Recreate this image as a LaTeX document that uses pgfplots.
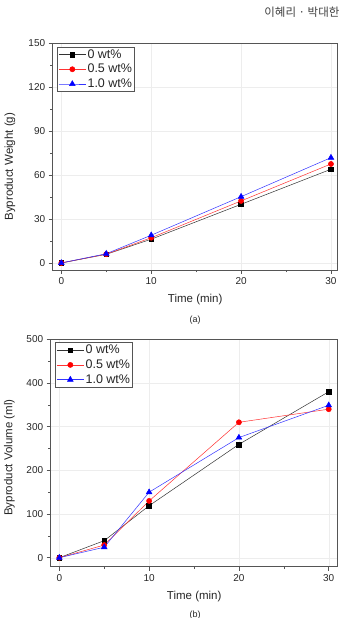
\documentclass[border=0pt]{standalone}
\usepackage{fontspec}
\setmainfont{Liberation Sans}
\newfontfamily\krfont{Noto Sans CJK KR}
\usepackage{pgfplots}
\pgfplotsset{compat=1.18}

\definecolor{framegray}{RGB}{85,85,85}

\pgfplotsset{
  origin/.style={
    scale only axis,
    /pgf/number format/assume math mode=true,
    axis line style={framegray, line width=0.8pt},
    tick style={framegray, line width=0.6pt},
    tick align=outside,
    xtick pos=bottom, ytick pos=left,
    major tick length=4pt, minor tick length=2.5pt,
    minor x tick num=1, minor y tick num=1,
    grid=major,
    major grid style={black!7, line width=0.4pt},
    ticklabel style={font=\fontsize{10}{12}\selectfont, text=black!85},
    label style={font=\fontsize{11.5}{13}\selectfont, text=black!85},
    xtick={0,10,20,30},
    xlabel={Time (min)},
    xlabel style={at={(axis description cs:0.5,0)}, anchor=center, yshift=-30pt},
    legend cell align=left,
    legend style={font=\fontsize{12.5}{14}\selectfont, draw=framegray, line width=0.6pt,
      anchor=north west, inner sep=1pt, row sep=1.5pt,
      nodes={inner sep=1.5pt, text=black!85}},
    legend image code/.code={%
      \draw[mark repeat=2, mark phase=2] plot coordinates {(0pt,0pt) (13.5pt,0pt) (27pt,0pt)};},
  },
  s0/.style={black!80, line width=0.5pt, mark=square*, mark size=2.4pt,
    mark options={fill=black, draw=black}},
  s5/.style={red!80, line width=0.5pt, mark=*, mark size=2.6pt,
    mark options={fill=red, draw=red}},
  s10/.style={blue!80, line width=0.5pt, mark=triangle*, mark size=3.3pt,
    mark options={fill=blue, draw=blue}},
}

\begin{document}
\begin{tikzpicture}
\useasboundingbox (0pt,0pt) rectangle (343pt,618pt);

% running head
\node[anchor=east, font=\fontsize{11}{13}\selectfont, text=black!75] at (4pt,606pt) {6};
\node[anchor=east, font=\krfont\fontsize{11.5}{13}\selectfont, text=black!75] at (343pt,606pt) {이혜리 · 박대한};

% (a) byproduct weight
\begin{axis}[origin,
  at={(52.7pt,348pt)}, anchor=south west,
  width=285pt, height=227pt,
  xmin=-0.96, xmax=30.75, ymin=-4.8, ymax=150,
  ytick={0,30,60,90,120,150},
  ylabel={Byproduct Weight (g)},
  ylabel style={at={(axis description cs:-0.1498,0.455)}, anchor=center},
  legend style={at={(axis description cs:0.016,0.984)}},
]
\addplot[s0] coordinates {(0,0) (5,5.9) (10,16.2) (20,40.0) (30,63.9)};
\addplot[s5] coordinates {(0,0) (5,6.0) (10,17.2) (20,42.3) (30,67.5)};
\addplot[s10] coordinates {(0,0) (5,6.3) (10,18.9) (20,45.2) (30,71.8)};
\legend{0 wt\%, 0.5 wt\%, 1.0 wt\%}
\end{axis}
\node[font=\fontsize{9}{11}\selectfont, text=black!85] at (195pt,298pt) {(a)};

% (b) byproduct volume
\begin{axis}[origin,
  at={(50.7pt,51.3pt)}, anchor=south west,
  width=287pt, height=227.4pt,
  xmin=-0.96, xmax=31.0, ymin=-20.6, ymax=500,
  ytick={0,100,200,300,400,500},
  ylabel={Byproduct Volume (ml)},
  ylabel style={at={(axis description cs:-0.1443,0.48)}, anchor=center},
  legend style={at={(axis description cs:0.016,0.987)}},
]
\addplot[s0] coordinates {(0,0) (5,39) (10,119) (20,259.5) (30,380)};
\addplot[s5] coordinates {(0,0) (5,29) (10,130) (20,310) (30,340)};
\addplot[s10] coordinates {(0,0) (5,24) (10,150) (20,275) (30,349)};
\legend{0 wt\%, 0.5 wt\%, 1.0 wt\%}
\end{axis}
\node[font=\fontsize{9}{11}\selectfont, text=black!85] at (195pt,3pt) {(b)};
\end{tikzpicture}
\end{document}
